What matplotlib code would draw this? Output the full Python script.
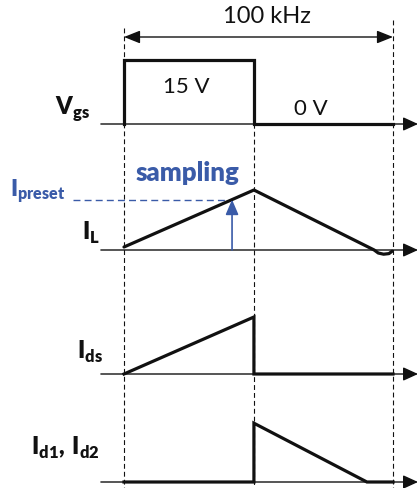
import matplotlib
matplotlib.use("Agg")
import matplotlib.pyplot as plt

plt.rcParams["font.family"] = ["Lato", "DejaVu Sans"]
plt.rcParams["mathtext.fontset"] = "custom"
plt.rcParams["mathtext.bf"] = "Lato:heavy"
plt.rcParams["mathtext.rm"] = "Lato"
plt.rcParams["lines.scale_dashes"] = False

# ---- timing data (time in microseconds) ----
period = 10.0            # 100 kHz switching period
t_on = 4.83              # gate on-time

vgs_t = [0.0, 0.0, t_on, t_on, period]
vgs_v = [0.0, 15.0, 15.0, 0.0, 0.0]          # gate-source voltage, V

il_t = [0.0, t_on, 9.30, 9.45, 9.65, 9.85, 9.97]
il_v = [0.05, 1.00, 0.0, -0.05, -0.07, -0.06, -0.02]   # inductor current, normalised

ids_t = [0.0, t_on, t_on, period]
ids_v = [0.0, 0.95, 0.0, 0.0]                # switch current, normalised

id_t = [0.0, t_on, t_on, 9.03, period]
id_v = [0.0, 0.0, 0.98, 0.0, 0.0]            # diode current, normalised

i_preset = 0.84
t_sample = (i_preset - il_v[0]) / (il_v[1] - il_v[0]) * t_on

# ---- layout (figure pixels) ----
W, H = 420, 488
x0_px, px_per_us = 124.0, 26.9
xlim = (-x0_px / px_per_us, (W - x0_px) / px_per_us)
axis_start, axis_end = -0.86, 10.93

BLACK = "#111111"
BLUE = "#3A5BA8"
LW_WAVE = 2.3
LW_THIN = 1.0

fig = plt.figure(figsize=(W / 100, H / 100), dpi=100)

# overlay axes in pixel units for guides and labels
ov = fig.add_axes([0, 0, 1, 1])
ov.set_xlim(*xlim)
ov.set_ylim(H, 0)
ov.axis("off")


def px_x(px):
    return (px - x0_px) / px_per_us


def trace_axes(baseline_px, px_per_unit):
    ax = fig.add_axes([0, 0, 1, 1])
    ax.set_xlim(*xlim)
    ax.set_ylim((baseline_px - H) / px_per_unit, baseline_px / px_per_unit)
    ax.patch.set_alpha(0)
    ax.axis("off")
    return ax


def time_axis(ax):
    ax.annotate("", xy=(axis_end, 0), xytext=(axis_start, 0),
                arrowprops=dict(arrowstyle="-|>,head_length=0.7,head_width=0.32",
                                lw=LW_THIN, color=BLACK, shrinkA=0, shrinkB=0,
                                mutation_scale=13))


# vertical dashed guides
ov.plot([0, 0], [28, H], ls=(0, (3.5, 2.2)), lw=0.8, color=BLACK)
ov.plot([t_on, t_on], [60, H], ls=(0, (3.5, 2.2)), lw=0.8, color=BLACK)
ov.plot([period, period], [20, H], ls=(0, (3.5, 2.2)), lw=0.8, color=BLACK)

# period dimension
ov.annotate("", xy=(period, 37), xytext=(0, 37),
            arrowprops=dict(arrowstyle="<|-|>,head_length=0.75,head_width=0.3",
                            lw=LW_THIN, color=BLACK, shrinkA=0, shrinkB=0,
                            mutation_scale=13))
ov.text(px_x(267), 23, "100 kHz", ha="center", va="baseline", fontsize=17, color=BLACK)

# Vgs
ax_v = trace_axes(124, 64 / 15)
time_axis(ax_v)
ax_v.plot(vgs_t, vgs_v, color=BLACK, lw=LW_WAVE, solid_joinstyle="miter")
ov.text(px_x(186), 93, "15 V", ha="center", va="baseline", fontsize=16, color=BLACK)
ov.text(px_x(311), 115, "0 V", ha="center", va="baseline", fontsize=16, color=BLACK)
ov.text(px_x(90), 115, r"$\mathbf{V}_{\mathbf{gs}}$", ha="right", va="baseline",
        fontsize=17, color=BLACK)

# IL
ax_l = trace_axes(250, 60)
time_axis(ax_l)
ax_l.plot([px_x(73), t_sample], [i_preset, i_preset], ls=(0, (5, 3)), lw=1.0, color=BLUE)
ax_l.annotate("", xy=(t_sample, i_preset), xytext=(t_sample, 0),
              arrowprops=dict(arrowstyle="-|>,head_length=0.7,head_width=0.3",
                              lw=1.2, color=BLUE, shrinkA=0, shrinkB=0,
                              mutation_scale=13))
ax_l.plot(il_t, il_v, color=BLACK, lw=LW_WAVE, solid_joinstyle="round",
          solid_capstyle="round")
ov.text(px_x(187), 181, "sampling", ha="center", va="baseline", fontsize=18.5,
        fontweight="heavy", color=BLUE)
ov.text(px_x(10), 197, r"$\mathbf{I}_{\mathbf{preset}}$", ha="left", va="baseline",
        fontsize=16.5, color=BLUE)
ov.text(px_x(100), 240, r"$\mathbf{I}_{\mathbf{L}}$", ha="right", va="baseline",
        fontsize=17, color=BLACK)

# Ids
ax_s = trace_axes(374, 60)
time_axis(ax_s)
ax_s.plot(ids_t, ids_v, color=BLACK, lw=LW_WAVE, solid_joinstyle="miter")
ov.text(px_x(103), 359, r"$\mathbf{I}_{\mathbf{ds}}$", ha="right", va="baseline",
        fontsize=17, color=BLACK)

# Id1, Id2
ax_d = trace_axes(482, 60)
time_axis(ax_d)
ax_d.plot(id_t, id_v, color=BLACK, lw=LW_WAVE, solid_joinstyle="miter")
ov.text(px_x(100), 455, r"$\mathbf{I}_{\mathbf{d1}}\mathbf{,}\ \mathbf{I}_{\mathbf{d2}}$",
        ha="right", va="baseline", fontsize=17, color=BLACK)

fig.savefig("out.png", dpi=100)
